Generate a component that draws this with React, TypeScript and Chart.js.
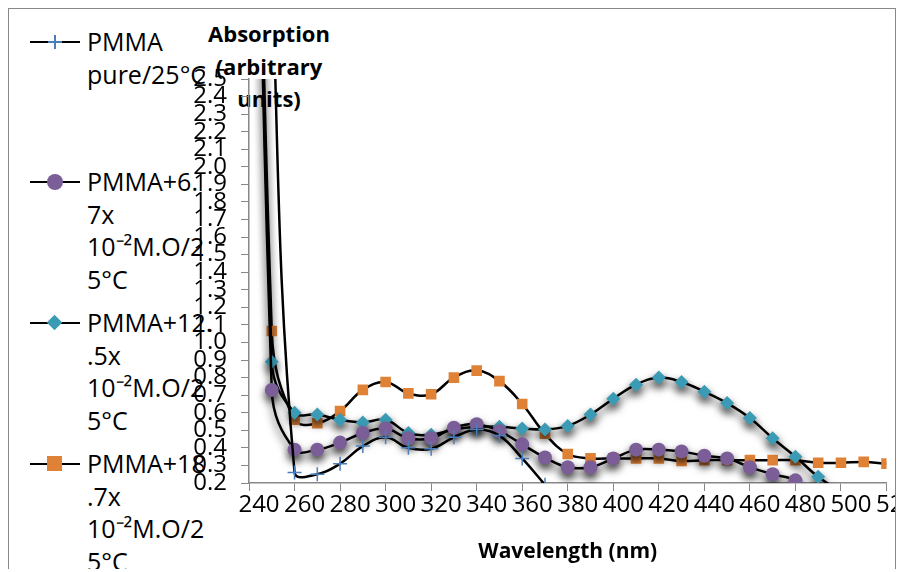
import React, { useEffect, useRef } from "react";
import { Chart, registerables } from "chart.js";
Chart.register(...registerables);

const wavelengths = [240, 250, 260, 270, 280, 290, 300, 310, 320, 330, 340, 350, 360, 370, 380, 390, 400, 410, 420, 430, 440, 450, 460, 470, 480, 490, 500, 510, 520];
const pure = [8, 3.2, 0.26, 0.25, 0.31, 0.41, 0.46, 0.40, 0.395, 0.46, 0.505, 0.47, 0.34, 0.19, null, null, null, null, null, null, null, null, null, null, null, null, null, null, null];
const m67 = [8, 0.73, 0.39, 0.39, 0.43, 0.485, 0.51, 0.455, 0.455, 0.515, 0.535, 0.495, 0.42, 0.345, 0.29, 0.29, 0.34, 0.39, 0.39, 0.38, 0.355, 0.34, 0.29, 0.25, 0.215, 0.12, null, null, null];
const m125 = [8, 0.89, 0.60, 0.59, 0.56, 0.545, 0.56, 0.485, 0.475, 0.505, 0.52, 0.52, 0.51, 0.505, 0.525, 0.59, 0.68, 0.76, 0.80, 0.775, 0.72, 0.655, 0.57, 0.455, 0.35, 0.235, 0.15, null, null];
const m187 = [8, 1.065, 0.56, 0.54, 0.61, 0.73, 0.775, 0.71, 0.705, 0.80, 0.84, 0.78, 0.65, 0.48, 0.365, 0.34, 0.34, 0.34, 0.34, 0.325, 0.33, 0.33, 0.33, 0.33, 0.33, 0.315, 0.315, 0.32, 0.31];
const yTicks = [0.2, 0.3, 0.4, 0.5, 0.6, 0.7, 0.8, 0.9, 1.0, 1.1, 1.2, 1.3, 1.4, 1.5, 1.6, 1.7, 1.8, 1.9, 2.0, 2.1, 2.2, 2.3, 2.4, 2.5];

const FONT = "'Open Sans', sans-serif";

function pts(arr: (number | null)[]) {
  return wavelengths.map((x, i) => ({ x, y: arr[i] }));
}

const shadowPlugin = {
  id: "shadow",
  beforeDatasetDraw(chart: any, args: any) {
    const ctx = chart.ctx;
    ctx.save();
    if (args.index === 2 || args.index === 1) {
      ctx.shadowColor = "rgba(0,0,0,0.75)";
      ctx.shadowBlur = 8;
      ctx.shadowOffsetY = 5;
    }
  },
  afterDatasetDraw(chart: any) {
    chart.ctx.restore();
  },
};

export default function App() {
  const ref = useRef<HTMLCanvasElement>(null);
  useEffect(() => {
    const mk = (label: string, data: any, style: string, color: string, r: number) => ({
      label,
      data: pts(data),
      borderColor: "#000",
      borderWidth: 2.5,
      tension: 0.4,
      pointStyle: style,
      pointRadius: r,
      pointBorderWidth: style === "cross" ? 1.5 : 0,
      pointBorderColor: color,
      pointBackgroundColor: color,
      spanGaps: false,
    });
    const chart = new Chart(ref.current!, {
      type: "line",
      data: {
        datasets: [
          mk("PMMA pure/25°C", pure, "cross", "#4a7ebb", 7),
          mk("PMMA+6.7x10⁻²M.O/25°C", m67, "circle", "#7b5e98", 7),
          mk("PMMA+12.5x10⁻²M.O/25°C", m125, "rectRot", "#3b9bb4", 7),
          mk("PMMA+18.7x10⁻²M.O/25°C", m187, "rect", "#e08236", 7.5),
        ],
      },
      plugins: [shadowPlugin],
      options: {
        animation: false,
        responsive: false,
        layout: { padding: { top: 70, right: 8, left: 0, bottom: 0 } },
        plugins: { legend: { display: false }, tooltip: { enabled: false } },
        scales: {
          x: {
            type: "linear",
            min: 240,
            max: 520,
            afterBuildTicks: (s: any) => { s.ticks = wavelengths.filter((w) => w % 20 === 0).map((v) => ({ value: v })); },
            afterFit: (s: any) => { s.height = 86; s.paddingLeft = 0; s.paddingRight = 0; },
            grid: { drawOnChartArea: false, tickLength: 8, color: "#888" },
            border: { color: "#888", width: 1.5 },
            ticks: { color: "#000", font: { family: FONT, size: 24 }, labelOffset: 10, padding: 0, maxRotation: 0, autoSkip: false },
            title: { display: true, text: "Wavelength (nm)", color: "#000", font: { family: FONT, size: 21, weight: "bold" }, padding: { top: 16 } },
          },
          y: {
            min: 0.2,
            max: 2.5,
            afterBuildTicks: (s: any) => { s.ticks = yTicks.map((v) => ({ value: v })); },
            afterFit: (s: any) => { s.width = 240; s.paddingTop = 0; s.paddingBottom = 0; },
            grid: { drawOnChartArea: false, tickLength: 8, color: "#888" },
            border: { color: "#888", width: 1.5 },
            ticks: { color: "#000", font: { family: FONT, size: 24, lineHeight: 1 }, padding: 14, autoSkip: false, callback: (v: any) => Number(v).toFixed(1) },
          },
        },
      } as any,
    });
    return () => chart.destroy();
  }, []);

  const lt: React.CSSProperties = { position: "absolute", fontFamily: FONT, fontSize: 25, lineHeight: "32.5px", color: "#000", whiteSpace: "nowrap" };
  const legend = [
    { lines: ["PMMA", "pure/25°C"], top: 16, color: "#4a7ebb", kind: "cross" },
    { lines: ["PMMA+6.", "7x", "10⁻²M.O/2", "5°C"], top: 156, color: "#7b5e98", kind: "circle" },
    { lines: ["PMMA+12.", ".5x", "10⁻²M.O/2", "5°C"], top: 297, color: "#3b9bb4", kind: "diamond" },
    { lines: ["PMMA+18", ".7x", "10⁻²M.O/2", "5°C"], top: 438, color: "#e08236", kind: "square" },
  ];
  return (
    <div style={{ position: "relative", width: 886, height: 560, borderTop: "1px solid #888", borderLeft: "1px solid #888", borderRight: "1px solid #888", overflow: "hidden" }}>
      {legend.map((l, i) => (
        <div key={i}>
          <div style={{ position: "absolute", left: 21, top: l.top + 16, width: 50, height: 2, background: "#000" }} />
          {l.kind === "cross" && (
            <>
              <div style={{ position: "absolute", left: 45, top: l.top + 10, width: 1.5, height: 14, background: l.color }} />
              <div style={{ position: "absolute", left: 39, top: l.top + 16, width: 14, height: 1.5, background: l.color }} />
            </>
          )}
          {l.kind === "circle" && <div style={{ position: "absolute", left: 38, top: l.top + 9, width: 16, height: 16, borderRadius: 8, background: l.color }} />}
          {l.kind === "diamond" && <div style={{ position: "absolute", left: 40, top: l.top + 11, width: 11, height: 11, transform: "rotate(45deg)", background: l.color }} />}
          {l.kind === "square" && <div style={{ position: "absolute", left: 38, top: l.top + 9, width: 15, height: 15, background: l.color }} />}
          {l.lines.map((t, j) => (
            <div key={j} style={{ ...lt, left: 78, top: l.top + j * 32.5 }}>{t}</div>
          ))}
        </div>
      ))}
      <div style={{ position: "absolute", left: 180, top: 8, width: 160, textAlign: "center", fontFamily: FONT, fontSize: 22, fontWeight: "bold", lineHeight: "32.5px" }}>
        Absorption<br />(arbitrary<br />units)
      </div>
      <canvas ref={ref} width={886} height={560} style={{ position: "absolute", left: 0, top: 0 }} />
    </div>
  );
}
